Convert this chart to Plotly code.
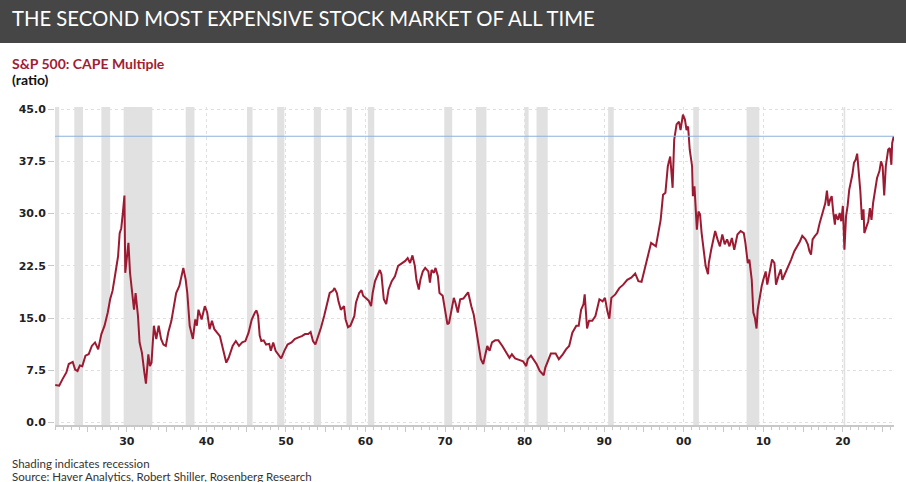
import plotly.graph_objects as go

# S&P 500 CAPE (decimal year, ratio)
years = [
    1921.0, 1921.5, 1921.9, 1922.4, 1922.7, 1923.0, 1923.2, 1923.5, 1923.8, 1924.1,
    1924.4, 1924.8, 1925.2, 1925.6, 1926.0, 1926.4, 1926.8, 1927.2, 1927.6, 1927.9,
    1928.2, 1928.5, 1928.9, 1929.1, 1929.3, 1929.5, 1929.7, 1929.8, 1930.0, 1930.2,
    1930.4, 1930.6, 1930.9, 1931.1, 1931.4, 1931.6, 1931.9, 1932.2, 1932.4, 1932.7,
    1932.9, 1933.1, 1933.4, 1933.7, 1934.0, 1934.3, 1934.6, 1934.9, 1935.2, 1935.6,
    1935.9, 1936.2, 1936.6, 1936.9, 1937.1, 1937.4, 1937.6, 1937.9, 1938.3, 1938.6,
    1938.8, 1939.0, 1939.4, 1939.8, 1940.1, 1940.4, 1940.7, 1941.0, 1941.3, 1941.7,
    1942.1, 1942.5, 1942.8, 1943.3, 1943.7, 1944.1, 1944.5, 1944.9, 1945.3, 1945.7,
    1946.1, 1946.3, 1946.5, 1946.7, 1946.9, 1947.2, 1947.5, 1947.9, 1948.1, 1948.4,
    1948.7, 1949.1, 1949.4, 1949.8, 1950.2, 1950.7, 1951.1, 1951.5, 1952.0, 1952.4,
    1952.8, 1953.1, 1953.4, 1953.7, 1954.0, 1954.4, 1954.8, 1955.2, 1955.5, 1955.9,
    1956.1, 1956.4, 1956.6, 1956.9, 1957.3, 1957.5, 1957.8, 1958.1, 1958.6, 1958.8,
    1959.2, 1959.5, 1959.7, 1960.0, 1960.4, 1960.7, 1960.9, 1961.2, 1961.5, 1961.8,
    1962.0, 1962.3, 1962.6, 1962.9, 1963.3, 1963.7, 1964.1, 1964.6, 1965.0, 1965.3,
    1965.6, 1965.9, 1966.2, 1966.4, 1966.7, 1966.9, 1967.2, 1967.5, 1967.9, 1968.1,
    1968.3, 1968.6, 1968.8, 1969.1, 1969.3, 1969.7, 1970.0, 1970.3, 1970.5, 1970.8,
    1971.1, 1971.3, 1971.6, 1971.9, 1972.3, 1972.7, 1972.9, 1973.3, 1973.6, 1973.9,
    1974.2, 1974.5, 1974.8, 1975.1, 1975.3, 1975.6, 1975.9, 1976.3, 1976.7, 1977.2,
    1977.7, 1978.1, 1978.4, 1978.8, 1979.3, 1979.8, 1980.2, 1980.4, 1980.8, 1981.1,
    1981.5, 1981.9, 1982.4, 1982.6, 1982.9, 1983.3, 1983.9, 1984.3, 1984.8, 1985.2,
    1985.6, 1986.0, 1986.5, 1986.8, 1987.1, 1987.4, 1987.55, 1987.7, 1987.85, 1988.1,
    1988.5, 1988.9, 1989.4, 1989.8, 1990.1, 1990.4, 1990.65, 1990.9, 1991.4, 1991.9,
    1992.4, 1992.9, 1993.4, 1993.9, 1994.3, 1994.7, 1995.1, 1995.5, 1995.9, 1996.5,
    1996.9, 1997.1, 1997.4, 1997.7, 1998.0, 1998.3, 1998.6, 1998.8, 1999.1, 1999.4,
    1999.6, 1999.9, 2000.15, 2000.35, 2000.55, 2000.75, 2001.05, 2001.15, 2001.35, 2001.55,
    2001.65, 2001.85, 2002.05, 2002.25, 2002.55, 2002.75, 2003.05, 2003.15, 2003.45, 2003.65,
    2003.95, 2004.25, 2004.55, 2004.85, 2005.15, 2005.45, 2005.75, 2006.05, 2006.35, 2006.75,
    2007.15, 2007.55, 2007.75, 2008.05, 2008.25, 2008.55, 2008.75, 2008.95, 2009.15, 2009.3,
    2009.5, 2009.8, 2010.0, 2010.3, 2010.5, 2010.8, 2011.1, 2011.4, 2011.6, 2011.9,
    2012.2, 2012.4, 2012.8, 2013.1, 2013.5, 2013.9, 2014.3, 2014.6, 2014.9, 2015.3,
    2015.6, 2015.8, 2016.0, 2016.2, 2016.5, 2016.8, 2017.1, 2017.4, 2017.8, 2018.0,
    2018.2, 2018.4, 2018.6, 2018.8, 2019.0, 2019.1, 2019.4, 2019.6, 2019.8, 2020.0,
    2020.2, 2020.4, 2020.6, 2020.8, 2021.2, 2021.4, 2021.6, 2021.8, 2022.0, 2022.2,
    2022.4, 2022.6, 2022.7, 2023.0, 2023.2, 2023.4, 2023.6, 2023.8, 2024.1, 2024.3,
    2024.6, 2024.8, 2025.0, 2025.2, 2025.4, 2025.7, 2025.9, 2026.1, 2026.2, 2026.4,
]
cape = [
    5.4, 5.3, 6.2, 7.2, 8.4, 8.6, 8.7, 7.6, 7.4, 8.2,
    8.1, 9.6, 9.8, 11.0, 11.5, 10.5, 12.7, 13.9, 15.8, 17.7,
    18.9, 21.0, 23.9, 27.2, 27.9, 30.1, 32.6, 21.5, 23.9, 25.8,
    21.5, 19.6, 16.2, 18.6, 15.3, 11.5, 10.0, 7.2, 5.6, 9.8,
    8.1, 8.6, 13.9, 12.0, 13.9, 12.0, 11.2, 11.0, 12.9, 14.6,
    16.7, 18.6, 19.6, 21.5, 22.2, 20.5, 18.6, 13.9, 12.0, 14.8,
    13.9, 16.2, 14.8, 16.7, 15.8, 13.4, 14.6, 13.4, 12.9, 12.4,
    10.5, 8.6, 9.3, 11.0, 11.7, 11.0, 11.5, 11.7, 12.9, 14.8,
    15.8, 16.1, 15.3, 12.5, 11.7, 11.8, 11.2, 11.3, 10.3, 11.5,
    10.3, 9.6, 9.2, 10.3, 11.2, 11.5, 12.0, 12.2, 12.4, 12.7,
    12.7, 13.0, 11.7, 11.2, 12.2, 13.6, 15.3, 17.0, 18.6, 18.9,
    19.3, 18.6, 17.4, 16.2, 16.7, 14.8, 13.7, 13.9, 15.3, 17.2,
    18.6, 19.0, 18.2, 17.9, 17.5, 16.7, 18.6, 20.3, 21.0, 21.9,
    21.3, 17.7, 17.0, 19.1, 20.3, 21.0, 22.5, 22.9, 23.2, 23.6,
    22.9, 24.0, 22.5, 20.5, 19.1, 20.5, 21.7, 22.2, 21.7, 20.1,
    21.9, 21.5, 22.2, 21.0, 18.6, 18.2, 16.2, 14.1, 14.3, 16.2,
    17.9, 17.2, 15.8, 17.7, 17.8, 18.4, 18.7, 16.7, 15.5, 13.4,
    11.0, 9.1, 8.4, 10.0, 11.0, 10.3, 11.5, 11.8, 11.8, 11.0,
    10.0, 9.3, 9.8, 9.2, 9.0, 8.8, 8.1, 9.1, 9.6, 9.1,
    8.4, 7.4, 6.8, 7.9, 8.8, 9.9, 9.9, 9.1, 9.8, 10.5,
    11.0, 12.9, 13.9, 13.9, 16.2, 17.0, 18.4, 15.8, 13.5, 14.6,
    14.6, 15.3, 17.7, 17.4, 17.9, 16.0, 14.9, 17.9, 18.4, 19.3,
    19.8, 20.5, 20.8, 21.4, 20.3, 20.2, 22.2, 24.1, 25.8, 25.3,
    27.7, 29.1, 32.7, 33.0, 36.8, 38.2, 33.7, 40.6, 42.8, 43.2,
    42.0, 44.2, 43.5, 42.0, 42.5, 39.2, 36.8, 32.5, 33.9, 30.6,
    27.7, 30.3, 29.9, 27.2, 23.9, 22.5, 21.3, 22.9, 24.8, 25.8,
    27.5, 26.3, 25.3, 27.0, 25.6, 26.3, 25.3, 26.5, 24.8, 27.0,
    27.5, 27.2, 25.8, 22.9, 23.4, 20.5, 15.8, 15.0, 13.5, 16.2,
    17.7, 19.6, 20.5, 21.7, 19.8, 21.5, 23.4, 22.9, 19.8, 21.0,
    22.0, 20.5, 21.5, 22.5, 23.4, 24.6, 25.3, 26.0, 26.8, 26.3,
    25.6, 24.6, 24.1, 26.3, 26.8, 27.2, 28.7, 29.9, 31.5, 33.3,
    31.1, 32.0, 32.5, 30.1, 28.4, 29.9, 29.1, 30.1, 28.9, 31.1,
    24.8, 29.6, 31.1, 33.4, 35.6, 37.3, 37.7, 38.6, 36.3, 33.2,
    29.1, 30.6, 27.2, 28.4, 28.9, 30.8, 29.1, 31.5, 33.4, 35.1,
    36.1, 37.5, 36.8, 32.6, 36.8, 39.2, 39.4, 37.0, 40.1, 41.1,
]

# NBER recessions (start, end) in decimal years
rec_start = [1920.0, 1923.4, 1926.8, 1929.6, 1937.4, 1945.1, 1948.9, 1953.5, 1957.6, 1960.3,
             1969.9, 1973.9, 1980.0, 1981.5, 1990.5, 2001.2, 2007.9, 2020.1]
rec_end = [1921.5, 1924.5, 1927.9, 1933.2, 1938.5, 1945.8, 1949.8, 1954.4, 1958.3, 1961.1,
           1970.9, 1975.2, 1980.5, 1982.9, 1991.2, 2001.9, 2009.5, 2020.3]

current_level = 41.1

decade_vals = [1930, 1940, 1950, 1960, 1970, 1980, 1990, 2000, 2010, 2020]
decade_text = ['30', '40', '50', '60', '70', '80', '90', '00', '10', '20']
five_vals = [1925, 1935, 1945, 1955, 1965, 1975, 1985, 1995, 2005, 2015, 2025]
y_vals = [0, 7.5, 15, 22.5, 30, 37.5, 45]

W, H = 906, 482
ML, MR, MT, MB = 55, 12, 107, 57
PW, PH = W - ML - MR, H - MT - MB


def px(x):
    return (x - ML) / PW


def py(y):
    return 1 - (y - MT) / PH


X_RANGE = [1920.97, 2026.43]

shapes = []
for s, e in zip(rec_start, rec_end):
    shapes.append(dict(type='rect', xref='x', yref='paper', x0=max(s, X_RANGE[0]), x1=e,
                       y0=0, y1=1, fillcolor='#e1e1e1', line_width=0, layer='below'))
# title bar
shapes.append(dict(type='rect', xref='paper', yref='paper', x0=px(0), x1=px(W),
                   y0=py(43), y1=py(0), fillcolor='#464646', line_width=0))
# current level line
shapes.append(dict(type='line', xref='paper', yref='y', x0=0, x1=1,
                   y0=current_level, y1=current_level,
                   line=dict(color='#8fb1dc', width=1.2)))

data = [
    go.Scatter(x=years, y=cape, mode='lines', line=dict(color='#9c1b32', width=2),
               showlegend=False, hoverinfo='x+y'),
    # helper trace so the gridline axis gets drawn
    go.Scatter(x=[X_RANGE[0]], y=[0], xaxis='x2', mode='markers',
               marker=dict(opacity=0), showlegend=False, hoverinfo='skip'),
]

annotations = [
    dict(text='THE SECOND MOST EXPENSIVE STOCK MARKET OF ALL TIME', x=px(10), y=py(18),
         font=dict(family='Lato', size=20.3, color='white')),
    dict(text='<b>S&P 500: CAPE Multiple</b>', x=px(10), y=py(63),
         font=dict(family='Lato', size=14, color='#a21c33')),
    dict(text='<b>(ratio)</b>', x=px(10), y=py(80),
         font=dict(family='Lato', size=14, color='#111111')),
    dict(text='Shading indicates recession', x=px(10), y=py(463),
         font=dict(family='Lato', size=11.5, color='#333333')),
    dict(text='Source: Haver Analytics, Robert Shiller, Rosenberg Research', x=px(10), y=py(476),
         font=dict(family='Lato', size=11.5, color='#333333')),
]
for a in annotations:
    a.update(xref='paper', yref='paper', xanchor='left', yanchor='middle', showarrow=False)

tickfont = dict(family='DejaVu Sans', size=11, color='#222222', weight='bold')

layout = go.Layout(
    width=W, height=H,
    margin=dict(l=ML, r=MR, t=MT, b=MB),
    paper_bgcolor='white', plot_bgcolor='white',
    showlegend=False,
    xaxis=dict(range=X_RANGE, tickvals=decade_vals + five_vals,
               ticktext=decade_text + [''] * len(five_vals),
               ticks='outside', ticklen=5, tickcolor='#c8c8c8', tickwidth=1,
               showgrid=False, zeroline=False,
               showline=True, linecolor='#c8c8c8', linewidth=1.5,
               tickfont=tickfont,
               minor=dict(dtick=1, tick0=1920, ticks='outside', ticklen=3,
                          tickcolor='#c8c8c8', showgrid=False)),
    xaxis2=dict(range=X_RANGE, overlaying='x', anchor='y', tickvals=decade_vals,
                showticklabels=False, ticks='', showgrid=True, gridcolor='#e0e0e0',
                griddash='dot', gridwidth=1, zeroline=False, showline=False),
    yaxis=dict(range=[-0.35, 45.3], tickvals=y_vals, tickformat='.1f',
               ticks='outside', ticklen=6, tickcolor='#c8c8c8',
               showgrid=True, gridcolor='#e0e0e0', griddash='dot', gridwidth=1,
               zeroline=False, showline=False, tickfont=tickfont),
    shapes=shapes,
    annotations=annotations,
)

fig = go.Figure(data=data, layout=layout)
# page body has a default 8px margin; drop it so the figure sits at the corner
fig.write_html('out.html', config={'displayModeBar': False},
               post_script="document.body.style.margin='0';")
